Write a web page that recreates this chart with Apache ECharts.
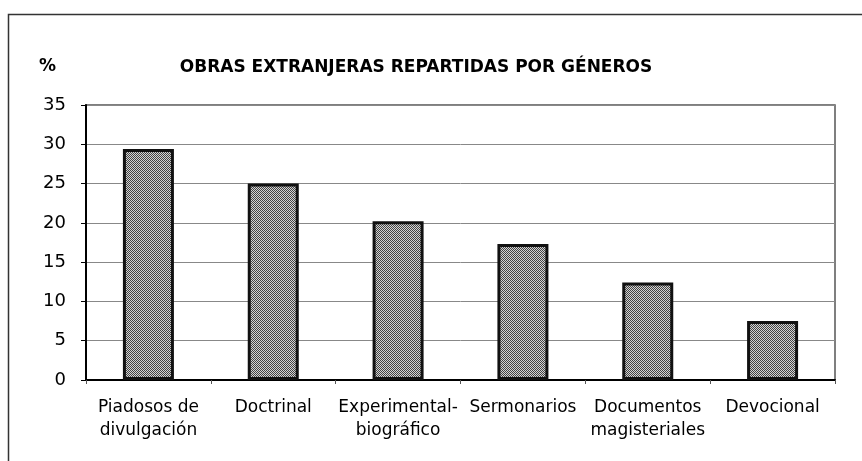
<!DOCTYPE html>
<html>
<head>
<meta charset="utf-8">
<script src="https://cdn.jsdelivr.net/npm/echarts@6/dist/echarts.min.js"></script>
<style>
  html, body { margin: 0; padding: 0; background: #fff; }
  #chart { width: 862px; height: 461px; }
</style>
</head>
<body>
<div id="chart"></div>
<script>
// categories and values (%)
var categories = ['Piadosos de\ndivulgación', 'Doctrinal', 'Experimental-\nbiográfico', 'Sermonarios', 'Documentos\nmagisteriales', 'Devocional']
var values = [29.4, 25, 20.2, 17.3, 12.4, 7.5]
var yTicks = [0, 5, 10, 15, 20, 25, 30, 35]

// dithered gray fill like the old print
function makePattern () {
  var c = document.createElement('canvas')
  c.width = 2
  c.height = 2
  var ctx = c.getContext('2d')
  ctx.fillStyle = '#d4d4d4'
  ctx.fillRect(0, 0, 2, 2)
  ctx.fillStyle = '#444'
  ctx.fillRect(0, 0, 1, 1)
  ctx.fillRect(1, 1, 1, 1)
  return c
}

var chart = echarts.init(document.getElementById('chart'), null, { renderer: 'canvas' })
var font = '"DejaVu Sans", sans-serif'

var option = {
  animation: false,
  backgroundColor: '#fff',
  title: {
    text: 'OBRAS EXTRANJERAS REPARTIDAS POR GÉNEROS',
    left: 411,
    textAlign: 'center',
    top: 54,
    textStyle: { fontFamily: font, fontSize: 17, fontWeight: 'bold', color: '#000' }
  },
  graphic: [
    {
      type: 'rect',
      silent: true,
      shape: { x: 8.5, y: 14.5, width: 900, height: 500 },
      style: { fill: null, stroke: '#333', lineWidth: 1.5 }
    },
    {
      type: 'text',
      left: 39,
      top: 58,
      style: { text: '%', font: 'bold 17px ' + font, fill: '#000' }
    }
  ],
  grid: {
    left: 86,
    right: 27,
    top: 105,
    bottom: 81,
    show: true,
    borderColor: '#555',
    borderWidth: 1.5
  },
  xAxis: {
    type: 'category',
    data: categories,
    axisLine: { lineStyle: { color: '#000', width: 2 } },
    axisTick: { show: true, length: 4, lineStyle: { color: '#555' } },
    axisLabel: {
      color: '#000',
      fontFamily: font,
      fontSize: 17,
      lineHeight: 23,
      margin: 16,
      interval: 0
    }
  },
  yAxis: {
    type: 'value',
    min: 0,
    max: 35,
    interval: 5,
    axisLine: { show: true, lineStyle: { color: '#000', width: 2 } },
    axisTick: { show: true, length: 5, lineStyle: { color: '#000' } },
    axisLabel: {
      color: '#000',
      fontFamily: font,
      fontSize: 18,
      margin: 20,
      formatter: function (v) { return yTicks.indexOf(v) >= 0 ? String(v) : '' }
    },
    splitLine: { lineStyle: { color: '#888', width: 1 } }
  },
  series: [{
    type: 'bar',
    data: values,
    barWidth: 51,
    itemStyle: {
      color: { image: makePattern(), repetition: 'repeat' },
      borderColor: '#111',
      borderWidth: 3
    }
  }]
}
chart.setOption(option)
</script>
</body>
</html>
